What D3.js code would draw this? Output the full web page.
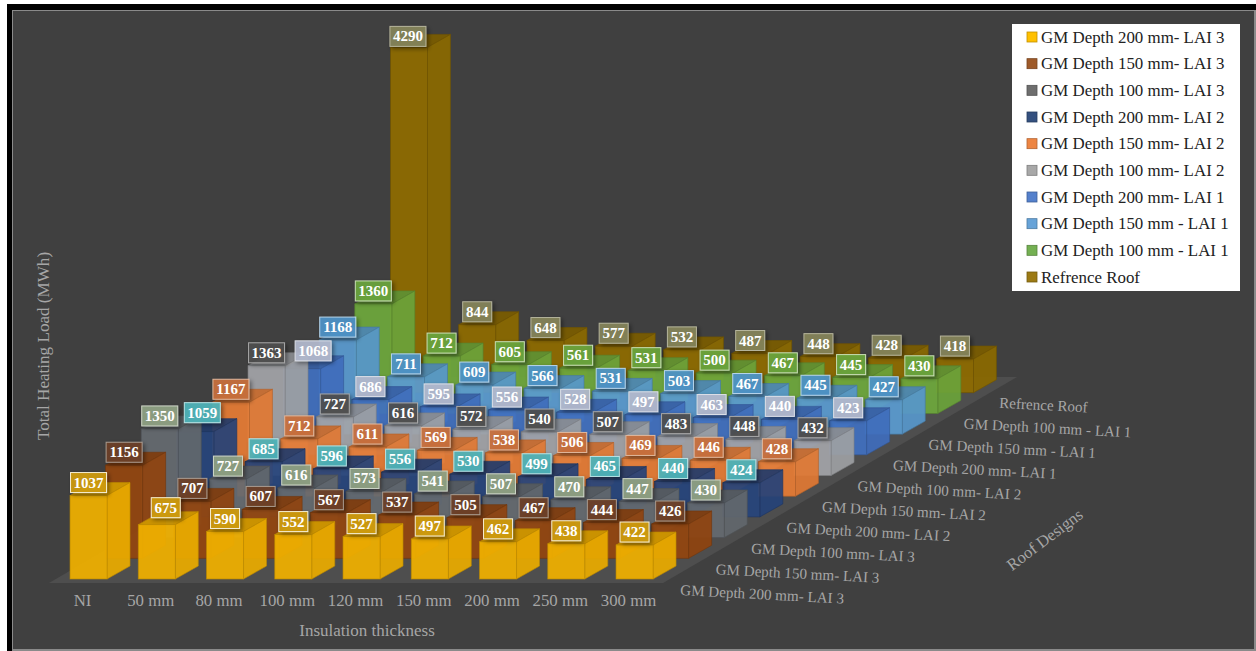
<!DOCTYPE html>
<html>
<head>
<meta charset="utf-8">
<script src="https://cdn.jsdelivr.net/npm/d3@7"></script>
<style>
  html, body { margin: 0; padding: 0; background: #fff; overflow: hidden; }
  text { font-family: "Liberation Serif", serif; }
</style>
</head>
<body>
<script>
// thickness categories along the front edge
var thickness = ["NI", "50 mm", "80 mm", "100 mm", "120 mm", "150 mm", "200 mm", "250 mm", "300 mm"];

// roof designs, front row first
var designs = ["GM Depth 200 mm- LAI 3", "GM Depth 150 mm- LAI 3", "GM Depth 100 mm- LAI 3",
               "GM Depth 200 mm- LAI 2", "GM Depth 150 mm- LAI 2", "GM Depth 100 mm- LAI 2",
               "GM Depth 200 mm- LAI 1", "GM Depth 150 mm - LAI 1", "GM Depth 100 mm - LAI 1",
               "Refrence Roof"];

var gm200Lai3 = [1037, 675, 590, 552, 527, 497, 462, 438, 422];
var gm150Lai3 = [1156, 707, 607, 567, 537, 505, 467, 444, 426];
var gm100Lai3 = [1350, 727, 616, 573, 541, 507, 470, 447, 430];
var gm200Lai2 = [1059, 685, 596, 556, 530, 499, 465, 440, 424];
var gm150Lai2 = [1167, 712, 611, 569, 538, 506, 469, 446, 428];
var gm100Lai2 = [1363, 727, 616, 572, 540, 507, 483, 448, 432];
var gm200Lai1 = [1068, 686, 595, 556, 528, 497, 463, 440, 423];
var gm150Lai1 = [1168, 711, 609, 566, 531, 503, 467, 445, 427];
var gm100Lai1 = [1360, 712, 605, 561, 531, 500, 467, 445, 430];
var refRoof   = [4290, 844, 648, 577, 532, 487, 448, 428, 418];
var series = [gm200Lai3, gm150Lai3, gm100Lai3, gm200Lai2, gm150Lai2, gm100Lai2, gm200Lai1, gm150Lai1, gm100Lai1, refRoof];

var barColors = ["#f0b000", "#93460f", "#656a70", "#27457c", "#e67c35", "#a2a4a8", "#4170c0", "#5a9bd0", "#6ea83c", "#8f6c00"];
var swatchColors = ["#ffc000", "#9e5a2a", "#6e6e6e", "#34507f", "#ed8543", "#a8a8a8", "#5480cc", "#67a3d8", "#74b052", "#9c7a14"];
var labelColors = ["#cf9c12", "#6e4126", "#8fa283", "#4fb4ba", "#c9703c", "#4f4f4f", "#b3bace", "#4f94c8", "#6aa53c", "#84835a"];
var labelBorders = ["#f5edd0", "#a89a8e", "#cdd5c6", "#b5e2e4", "#e0b79c", "#a6a6a6", "#dde0e8", "#b5d4ea", "#c8deb4", "#b5b49b"];

var svg = d3.select("body").append("svg").attr("width", 1256).attr("height", 651);

// outer frame
svg.append("rect").attr("width", 1256).attr("height", 651).attr("fill", "#fff");
svg.append("rect").attr("x", 7).attr("y", 4).attr("width", 1249).attr("height", 647).attr("fill", "#000");
svg.append("rect").attr("x", 12).attr("y", 10).attr("width", 1244).attr("height", 641).attr("fill", "#8a8a8a");
svg.append("rect").attr("x", 13).attr("y", 11).attr("width", 1241).attr("height", 638).attr("fill", "#404040");

var defs = svg.append("defs");
var shadow = defs.append("filter").attr("id", "lblShadow")
    .attr("x", "-30%").attr("y", "-30%").attr("width", "170%").attr("height", "170%");
shadow.append("feDropShadow").attr("dx", 2).attr("dy", 2).attr("stdDeviation", 2)
    .attr("flood-color", "#000").attr("flood-opacity", 0.45);

// oblique projection: x scale for the columns, row scales shift each design back
var barW = 37, sideX = 23, sideY = 13;
var xCol = d3.scaleBand().domain(thickness).range([70 - 15.6, 70 + 9 * 68.25 - 15.6]).paddingInner(0).paddingOuter(0);
var rowDx = d3.scaleLinear().domain([0, 9]).range([0, 320.4]);
var rowY = d3.scaleLinear().domain([0, 9]).range([579, 392.7]);
var h = d3.scaleLinear().domain([0, 4290]).range([0, 345.3]);

function barLeft(c, r) { return xCol(thickness[c]) + (xCol.bandwidth() - barW) / 2 + rowDx(r); }

// floor
var floorPath = d3.path();
floorPath.moveTo(49, 583);
floorPath.lineTo(663, 583);
floorPath.lineTo(1017, 377);
floorPath.lineTo(403, 377);
floorPath.closePath();
svg.append("path").attr("d", floorPath.toString()).attr("fill", "#4e4e4e");

// bars, back row first so nearer rows cover them
var bars = svg.append("g");
d3.range(9, -1, -1).forEach(function(r) {
  var base = d3.color(barColors[r]);
  series[r].forEach(function(v, c) {
    var x = barLeft(c, r), y0 = rowY(r), y1 = y0 - h(v);
    var g = bars.append("g").attr("stroke", base.darker(0.7)).attr("stroke-width", 0.8).attr("stroke-opacity", 0.8);
    g.append("polygon")
      .attr("points", [[x, y1], [x + barW, y1], [x + barW + sideX, y1 - sideY], [x + sideX, y1 - sideY]].join(" "))
      .attr("fill", base.darker(0.42)).attr("fill-opacity", 0.93);
    g.append("polygon")
      .attr("points", [[x + barW, y0], [x + barW + sideX, y0 - sideY], [x + barW + sideX, y1 - sideY], [x + barW, y1]].join(" "))
      .attr("fill", base.darker(0.08)).attr("fill-opacity", 0.93);
    g.append("rect").attr("x", x).attr("y", y1).attr("width", barW).attr("height", y0 - y1)
      .attr("fill", base).attr("fill-opacity", 0.93);
  });
});

// a few value labels sit off their bar
var labelNudge = { "0-1": [9, -4], "3-0": [7, -6], "6-0": [11, -5], "9-0": [-1, 2] };
var labels = svg.append("g");
d3.range(9, -1, -1).forEach(function(r) {
  series[r].forEach(function(v, c) {
    var nudge = labelNudge[r + "-" + c] || [0, 0];
    var w = String(v).length === 4 ? 36 : 29;
    var cx = barLeft(c, r) + barW / 2 + nudge[0];
    var cy = rowY(r) - h(v) - 13 + nudge[1];
    var g = labels.append("g").attr("transform", "translate(" + cx + "," + cy + ")");
    g.append("rect").attr("x", -w / 2).attr("y", -10).attr("width", w).attr("height", 20)
      .attr("fill", labelColors[r]).attr("fill-opacity", 0.92)
      .attr("stroke", labelBorders[r]).attr("stroke-width", 1)
      .attr("filter", "url(#lblShadow)");
    g.append("text").attr("text-anchor", "middle").attr("y", 5)
      .attr("font-size", "15px").attr("font-weight", "bold").attr("fill", "#fff")
      .text(v);
  });
});

// thickness axis
var xAxis = svg.append("g").attr("transform", "translate(-6,589)")
    .call(d3.axisBottom(xCol).tickSize(0).tickPadding(5));
xAxis.select(".domain").remove();
xAxis.selectAll("text").attr("font-size", "16.8px").attr("fill", "#a6a6a6")
    .style("font-family", '"Liberation Serif", serif');

// design labels run back along the floor's right edge
svg.append("g").selectAll("text").data(designs).enter().append("text")
    .attr("transform", function(d, i) { return "translate(" + (680 + i * 35.45) + "," + (595 - i * 20.8) + ") rotate(3)"; })
    .attr("font-size", "15.1px").attr("fill", "#a6a6a6")
    .text(function(d) { return d; });

svg.append("text").attr("text-anchor", "middle")
    .attr("transform", "translate(49,346) rotate(-90)")
    .attr("font-size", "17.1px").attr("fill", "#a6a6a6").text("Total Heating Load (MWh)");
svg.append("text").attr("text-anchor", "middle").attr("x", 367).attr("y", 636)
    .attr("font-size", "17px").attr("fill", "#a6a6a6").text("Insulation thickness");
svg.append("text").attr("text-anchor", "middle")
    .attr("transform", "translate(1048,544) rotate(-37)")
    .attr("font-size", "16.5px").attr("fill", "#a6a6a6").text("Roof Designs");

// legend
svg.append("rect").attr("x", 1012).attr("y", 24).attr("width", 228).attr("height", 267).attr("fill", "#fff");
var legendY = d3.scaleLinear().domain([0, 9]).range([37, 277]);
var legend = svg.append("g").selectAll("g").data(designs).enter().append("g")
    .attr("transform", function(d, i) { return "translate(1027," + legendY(i) + ")"; });
legend.append("rect").attr("y", -5).attr("width", 10).attr("height", 10)
    .attr("fill", function(d, i) { return swatchColors[i]; })
    .attr("stroke", function(d, i) { return d3.color(swatchColors[i]).darker(0.8); })
    .attr("stroke-width", 0.8);
legend.append("text").attr("x", 14).attr("y", 5.5)
    .attr("font-size", "16.9px").attr("fill", "#222")
    .text(function(d) { return d; });
</script>
</body>
</html>
